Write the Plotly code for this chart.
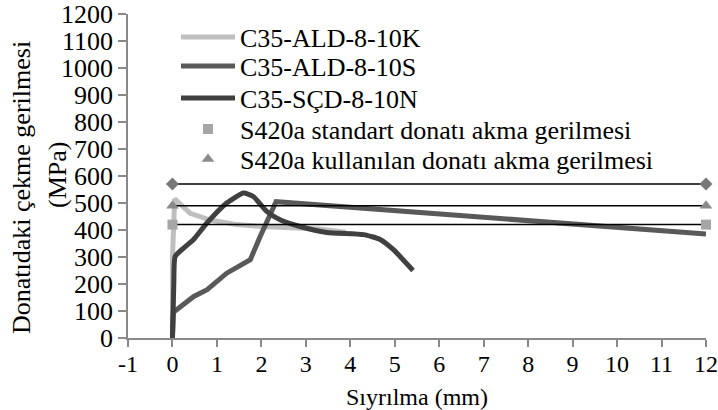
import plotly.graph_objects as go

# Series data
k_x = [0, 0, 0.05, 0.2, 0.4, 0.85, 1.45, 2.0, 2.7, 3.3, 3.9]
k_y = [0, 300, 515, 490, 462, 437, 420, 413, 408, 404, 392]

s_x = [0, 0.02, 0.48, 0.78, 1.22, 1.75, 1.97, 2.33, 12]
s_y = [0, 95, 154, 179, 240, 290, 375, 505, 385]

n_x = [0, 0.03, 0.06, 0.25, 0.47, 0.77, 1.22, 1.6, 1.82, 2.12, 2.42, 2.87, 3.47, 4.3, 4.67, 4.97, 5.41]
n_y = [0, 200, 302, 333, 364, 425, 500, 537, 524, 469, 438, 413, 391, 383, 365, 327, 250]

ref_x = [0, 12]
ult_y = [570, 570]
std_y = [420, 420]
used_y = [490, 490]

x_ticks = list(range(-1, 13))
x_labels = ["-1", "0", "1", "2", "3", "4", "5", "6", "7", "8", "9", "10", "11", "12"]

names = ["C35-ALD-8-10K", "C35-ALD-8-10S", "C35-SÇD-8-10N",
         "S420a standart donatı akma gerilmesi", "S420a kullanılan donatı akma gerilmesi"]

FONT = "Times New Roman, Liberation Serif, DejaVu Serif"
FS = 26
AX = "#898989"

fig = go.Figure()
fig.add_trace(go.Scatter(x=k_x, y=k_y, mode="lines", name=names[0], legend="legend",
                         line=dict(color="#BFBFBF", width=5)))
fig.add_trace(go.Scatter(x=s_x, y=s_y, mode="lines", name=names[1], legend="legend2",
                         line=dict(color="#595959", width=5)))
fig.add_trace(go.Scatter(x=n_x, y=n_y, mode="lines", name=names[2], legend="legend3",
                         line=dict(color="#404040", width=5, shape="spline", smoothing=0.5)))
# black reference lines
for yy in (ult_y, used_y, std_y):
    fig.add_trace(go.Scatter(x=ref_x, y=yy, mode="lines", showlegend=False,
                             line=dict(color="black", width=1.5), hoverinfo="skip"))
fig.add_trace(go.Scatter(x=ref_x, y=ult_y, mode="markers", showlegend=False, cliponaxis=False,
                         marker=dict(symbol="diamond", size=10, color="#777777")))
fig.add_trace(go.Scatter(x=ref_x, y=std_y, mode="markers", name=names[3], legend="legend4",
                         cliponaxis=False,
                         marker=dict(symbol="square", size=10, color="#A6A6A6")))
fig.add_trace(go.Scatter(x=ref_x, y=used_y, mode="markers", name=names[4], legend="legend5",
                         cliponaxis=False,
                         marker=dict(symbol="triangle-up", size=11, color="#8A8A8A")))

row_px = [37, 66, 98, 129, 159]
legend_common = dict(x=(176 - 128) / 578, xanchor="left", yanchor="middle",
                     bgcolor="rgba(0,0,0,0)", font=dict(size=FS, family=FONT, color="black"),
                     itemwidth=54, borderwidth=0)
legends = {}
for i, key in enumerate(["legend", "legend2", "legend3", "legend4", "legend5"]):
    legends[key] = dict(legend_common, y=(338 - row_px[i]) / 324)

fig.update_layout(
    width=718, height=410,
    margin=dict(l=128, r=12, t=14, b=72, autoexpand=False),
    paper_bgcolor="white", plot_bgcolor="white",
    font=dict(family=FONT, size=FS, color="black"),
    showlegend=True,
    xaxis=dict(range=[-1, 12], tickmode="array", tickvals=x_ticks, ticktext=x_labels,
               ticklabeloverflow="allow", automargin=False, ticklabelstandoff=-4,
               showgrid=False, zeroline=False, showline=True, linecolor=AX, linewidth=1.5,
               ticks="outside", ticklen=7, tickcolor=AX, tickwidth=1.5,
               tickfont=dict(size=24, family=FONT)),
    yaxis=dict(range=[0, 1200], tickmode="linear", tick0=0, dtick=100, automargin=False,
               showgrid=False, zeroline=False, showline=True, linecolor=AX, linewidth=1.5,
               ticks="outside", ticklen=8, tickcolor=AX, tickwidth=1.5,
               tickfont=dict(size=FS, family=FONT)),
    **legends,
)
w_plot = 718 - 128 - 12
fig.add_annotation(text="Sıyrılma (mm)", x=0.5, xref="paper", y=(338 - 397) / 324, yref="paper",
                   xanchor="center", yanchor="middle", showarrow=False,
                   font=dict(size=24, family=FONT))
fig.add_annotation(text="Donatıdaki çekme gerilmesi", xref="paper", yref="paper",
                   x=(22 - 128) / w_plot, y=(338 - 188) / 324, showarrow=False, textangle=-90,
                   xanchor="center", yanchor="middle", font=dict(size=FS, family=FONT))
fig.add_annotation(text="(MPa)", xref="paper", yref="paper", x=(57 - 128) / w_plot,
                   y=(338 - 175) / 324, showarrow=False, textangle=-90,
                   xanchor="center", yanchor="middle", font=dict(size=FS, family=FONT))

fig.write_html("out.html")
